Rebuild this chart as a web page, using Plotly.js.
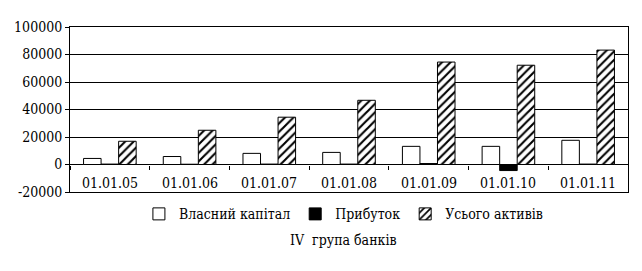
<!DOCTYPE html>
<html>
<head>
<meta charset="utf-8">
<script src="https://cdn.plot.ly/plotly-3.0.1.min.js"></script>
<style>html,body{margin:0;padding:0;background:#fff;}#chart{width:642px;height:271px;}</style>
</head>
<body>
<div id="chart"></div>
<script>
const categories = ["01.01.05", "01.01.06", "01.01.07", "01.01.08", "01.01.09", "01.01.10", "01.01.11"];
const equity = [4400, 5800, 8100, 8800, 13200, 13200, 17600];
const profit = [300, 200, 300, 300, 700, -4400, 300];
const assets = [16900, 24900, 34400, 46700, 74500, 72200, 83200];
const seriesNames = ["Власний капітал", "Прибуток", "Усього активів"];
const yTicks = [-20000, 0, 20000, 40000, 60000, 80000, 100000];
const chartTitle = "IV  група банків";

const font = {family: "DejaVu Serif Condensed, DejaVu Serif", size: 14, color: "#000"};

const traces = [
  {type: "bar", name: seriesNames[0], x: categories, y: equity,
   marker: {color: "#fff", line: {color: "#000", width: 1}}},
  {type: "bar", name: seriesNames[1], x: categories, y: profit,
   marker: {color: "#000", line: {color: "#000", width: 1}}},
  {type: "bar", name: seriesNames[2], x: categories, y: assets,
   marker: {color: "#fff", line: {color: "#000", width: 1},
            pattern: {shape: "/", bgcolor: "#fff", fgcolor: "#000", size: 6, solidity: 0.35}}},
  {type: "scatter", mode: "none", x: categories, y: categories.map(() => 0),
   xaxis: "x2", yaxis: "y", showlegend: false, hoverinfo: "skip"}
];

const catAnnotations = categories.map(c => ({
  text: c, xref: "x", yref: "y", x: c, y: -20000, yanchor: "bottom", xanchor: "center",
  yshift: -1, showarrow: false, font: font
}));

const layout = {
  width: 642, height: 271,
  margin: {l: 70, r: 14, t: 27, b: 79},
  paper_bgcolor: "#fff", plot_bgcolor: "#fff",
  font: font,
  barmode: "group", bargap: 0.34, bargroupgap: 0,
  showlegend: true,
  legend: {orientation: "h", x: 0.49, xanchor: "center", y: -0.135, yanchor: "middle",
           font: font, traceorder: "normal", itemwidth: 30},
  xaxis: {type: "category", range: [-0.5, 6.5], showline: true, mirror: true,
          linecolor: "#000", linewidth: 1, ticks: "", showgrid: false, zeroline: false,
          showticklabels: false, fixedrange: true},
  xaxis2: {type: "category", overlaying: "x", anchor: "free", position: 1/6,
           range: [-0.5, 6.5], ticks: "outside", tickson: "boundaries", ticklen: 4,
           tickcolor: "#000", tickwidth: 1, showticklabels: false, showline: false,
           showgrid: false, zeroline: false},
  yaxis: {range: [-20000, 100000], tickvals: yTicks, ticktext: yTicks.map(String),
          showline: true, mirror: true, linecolor: "#000", linewidth: 1,
          ticks: "outside", ticklen: 4, tickcolor: "#000",
          showgrid: true, gridcolor: "#000", gridwidth: 1,
          zeroline: true, zerolinecolor: "#000", zerolinewidth: 1,
          tickfont: font, fixedrange: true},
  annotations: catAnnotations.concat([{text: chartTitle, xref: "paper", yref: "paper", x: 0.49, y: -0.29,
                 xanchor: "center", yanchor: "middle", showarrow: false, font: font}])
};

Plotly.newPlot("chart", traces, layout, {staticPlot: true, displayModeBar: false});
</script>
</body>
</html>
